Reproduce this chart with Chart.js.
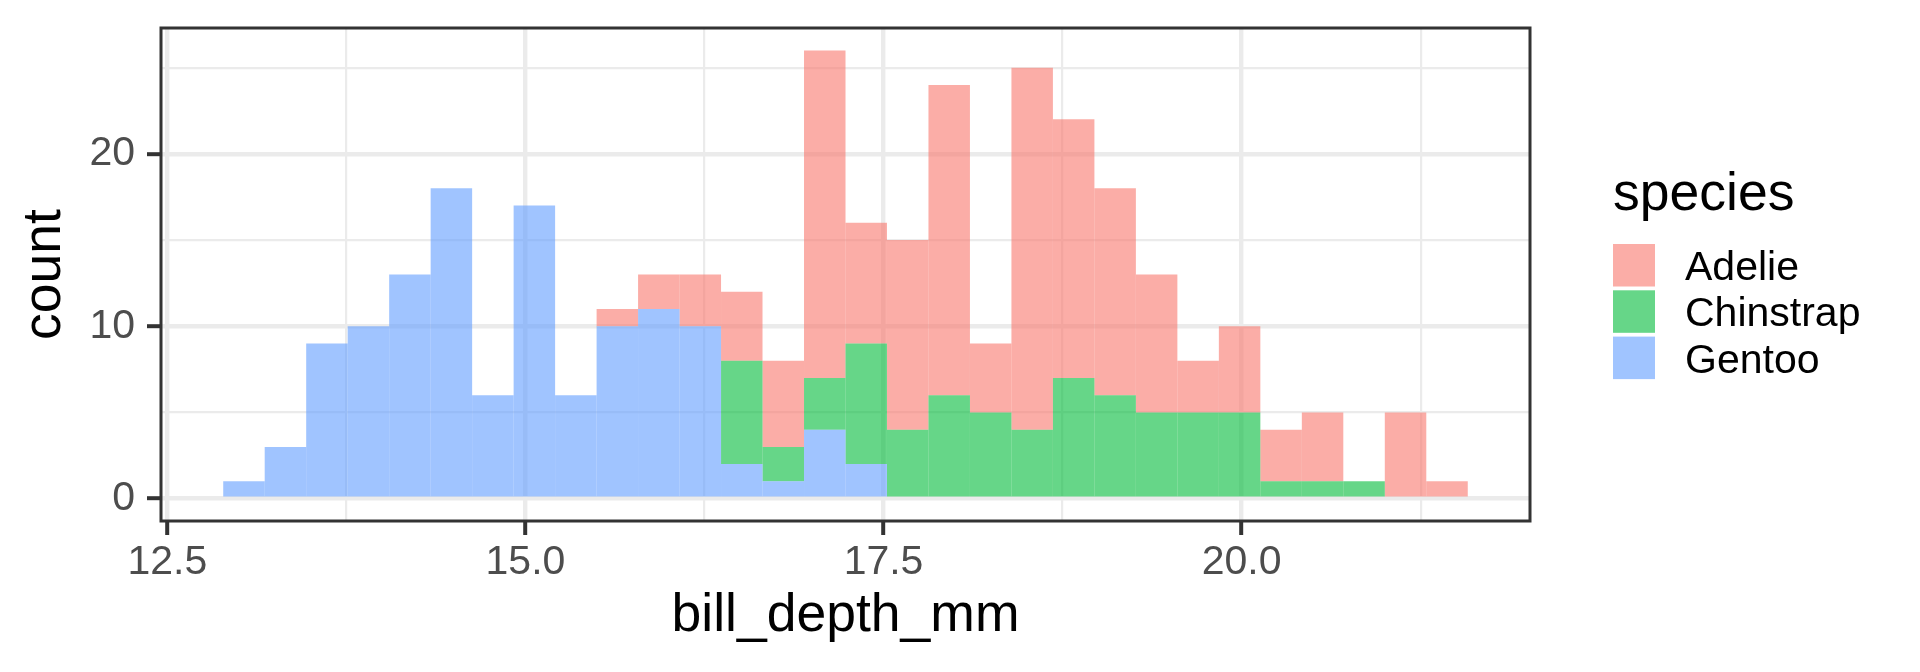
<!DOCTYPE html>
<html>
<head>
<meta charset="utf-8">
<script src="https://cdn.jsdelivr.net/npm/chart.js@4/dist/chart.umd.min.js"></script>
<style>
  html, body { margin: 0; padding: 0; background: #ffffff; }
  #wrap { width: 1920px; height: 672px; }
</style>
</head>
<body>
<div id="wrap"><canvas id="depthChart" width="1920" height="672"></canvas></div>
<script>
// histogram bins (centres, mm) and counts per species
const binCenters = [
    13.0345, 13.3241, 13.6138, 13.9034, 14.1931, 14.4828, 14.7724, 15.0621, 15.3517, 15.6414,
    15.9310, 16.2207, 16.5103, 16.8000, 17.0897, 17.3793, 17.6690, 17.9586, 18.2483, 18.5379,
    18.8276, 19.1172, 19.4069, 19.6966, 19.9862, 20.2759, 20.5655, 20.8552, 21.1448, 21.4345
];
const adelieCounts = [
    0, 0, 0, 0, 0, 0, 0, 0, 0, 1,
    2, 3, 4, 5, 19, 7, 11, 18, 4, 21,
    15, 12, 8, 3, 5, 3, 4, 0, 5, 1
];
const chinstrapCounts = [
    0, 0, 0, 0, 0, 0, 0, 0, 0, 0,
    0, 0, 6, 2, 3, 7, 4, 6, 5, 4,
    7, 6, 5, 5, 5, 1, 1, 1, 0, 0
];
const gentooCounts = [
    1, 3, 9, 10, 13, 18, 6, 17, 6, 10,
    11, 10, 2, 1, 4, 2, 0, 0, 0, 0,
    0, 0, 0, 0, 0, 0, 0, 0, 0, 0
];

const speciesNames = ['Adelie', 'Chinstrap', 'Gentoo'];
const speciesColors = ['#F8766D', '#00BA38', '#619CFF'];

const xMajorTicks = [12.5, 15, 17.5, 20];
const xMinorTicks = [13.75, 16.25, 18.75, 21.25];
const yMajorTicks = [0, 10, 20];
const yMinorTicks = [5, 15, 25];

const FONT = "'Liberation Sans', Arial, sans-serif";
const TICK_SIZE = 41;
const TITLE_SIZE = 53.5;

function withAlpha(hex, a) {
    const n = parseInt(hex.slice(1), 16);
    return `rgba(${n >> 16}, ${(n >> 8) & 255}, ${n & 255}, ${a})`;
}

function gridFor(majors) {
    return {
        color: '#EBEBEB',
        lineWidth: ctx => majors.includes(ctx.tick.value) ? 4.4 : 2.2,
        tickColor: ctx => majors.includes(ctx.tick.value) ? '#333333' : 'rgba(0,0,0,0)',
        tickWidth: 4,
        tickLength: 14,
        offset: false
    };
}

function tickSetter(majors, minors) {
    return scale => {
        scale.ticks = [...majors, ...minors].sort((a, b) => a - b).map(value => ({ value }));
    };
}

const countsBySpecies = {
    Adelie: adelieCounts,
    Chinstrap: chinstrapCounts,
    Gentoo: gentooCounts
};

// ggplot stacks the first level on top, so Gentoo goes in first
const datasets = [...speciesNames].reverse().map(name => {
    const color = speciesColors[speciesNames.indexOf(name)];
    return {
        label: name,
        data: binCenters.map((x, i) => ({ x, y: countsBySpecies[name][i] })),
        backgroundColor: withAlpha(color, 0.6),
        borderWidth: 0,
        inflateAmount: 0,
        barPercentage: 1,
        categoryPercentage: 1
    };
});

const panelBorder = {
    id: 'panelBorder',
    afterDatasetsDraw(chart) {
        const { ctx, chartArea } = chart;
        ctx.save();
        ctx.strokeStyle = '#333333';
        ctx.lineWidth = 3;
        ctx.strokeRect(chartArea.left, chartArea.top,
            chartArea.right - chartArea.left, chartArea.bottom - chartArea.top);
        ctx.restore();
    }
};

const speciesLegend = {
    id: 'speciesLegend',
    afterDraw(chart) {
        const ctx = chart.ctx;
        ctx.save();
        ctx.textAlign = 'left';
        ctx.textBaseline = 'alphabetic';
        ctx.fillStyle = '#000000';
        ctx.font = `${TITLE_SIZE}px ${FONT}`;
        ctx.fillText('species', 1613, 210);
        ctx.font = `${TICK_SIZE}px ${FONT}`;
        speciesNames.forEach((name, i) => {
            const top = 244 + i * 46.3;
            ctx.fillStyle = withAlpha(speciesColors[i], 0.6);
            ctx.fillRect(1613, top, 42, 42.5);
            ctx.fillStyle = '#000000';
            ctx.fillText(name, 1685, top + 21.25 + 14.7);
        });
        ctx.restore();
    }
};

// drop the label overflow padding so the panel sits where ggplot put it
function fixSize(prop, size) {
    return scale => {
        scale[prop] = size;
        scale.paddingTop = 0;
        scale.paddingBottom = 0;
        scale.paddingLeft = 0;
        scale.paddingRight = 0;
    };
}

const chart = new Chart(document.getElementById('depthChart').getContext('2d'), {
    type: 'bar',
    data: { datasets },
    plugins: [panelBorder, speciesLegend],
    options: {
        responsive: false,
        devicePixelRatio: 1,
        animation: false,
        layout: { padding: { top: 28, right: 390, bottom: 0, left: 0 } },
        plugins: {
            legend: { display: false },
            tooltip: { enabled: false }
        },
        scales: {
            x: {
                type: 'linear',
                stacked: true,
                offset: false,
                min: 12.4552,
                max: 22.0138,
                afterBuildTicks: tickSetter(xMajorTicks, xMinorTicks),
                afterFit: fixSize('height', 151),
                grid: gridFor(xMajorTicks),
                border: { display: false },
                ticks: {
                    autoSkip: false,
                    maxRotation: 0,
                    padding: 3,
                    color: '#4D4D4D',
                    font: { size: TICK_SIZE, family: FONT },
                    callback: value => xMajorTicks.includes(value) ? value.toFixed(1) : ''
                },
                title: {
                    display: true,
                    text: 'bill_depth_mm',
                    color: '#000000',
                    font: { size: TITLE_SIZE, family: FONT },
                    padding: { top: 0, bottom: 24 }
                }
            },
            y: {
                stacked: true,
                min: -1.3,
                max: 27.3,
                afterBuildTicks: tickSetter(yMajorTicks, yMinorTicks),
                afterFit: fixSize('width', 161),
                grid: gridFor(yMajorTicks),
                border: { display: false },
                ticks: {
                    padding: 12,
                    color: '#4D4D4D',
                    font: { size: TICK_SIZE, family: FONT },
                    callback: value => yMajorTicks.includes(value) ? String(value) : ''
                },
                title: {
                    display: true,
                    text: 'count',
                    color: '#000000',
                    font: { size: TITLE_SIZE, family: FONT },
                    padding: { top: 13, bottom: 0 }
                }
            }
        }
    }
});
</script>
</body>
</html>
